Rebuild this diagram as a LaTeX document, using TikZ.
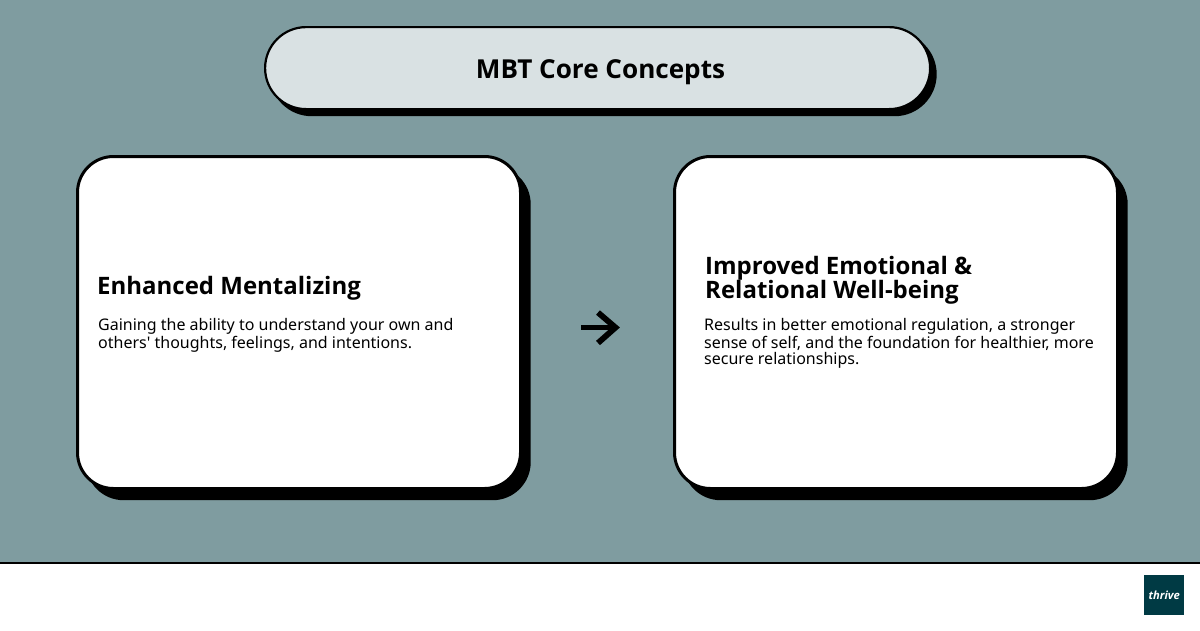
\documentclass[tikz,border=0pt]{standalone}
\usepackage{fontspec}
\setmainfont{Noto Sans}
\newfontfamily\nsans{Noto Sans}
\newfontfamily\osans{Open Sans}
\definecolor{bgc}{HTML}{7F9CA0}
\definecolor{pillc}{HTML}{D9E1E3}
\definecolor{logoc}{HTML}{003A44}
\tikzset{
  x=1pt,y=-1pt,
  card/.style={draw=black,line width=3pt,fill=white,rounded corners=36pt,minimum width=443pt,minimum height=332pt,anchor=north west,inner sep=0pt},
  cardshadow/.style={fill=black,rounded corners=38pt,minimum width=445pt,minimum height=334pt,anchor=north west,inner sep=0pt},
  pill/.style={draw=black,line width=2.2pt,fill=pillc,rounded corners=41pt,minimum width=665pt,minimum height=82pt,anchor=north west,inner sep=0pt},
  pillshadow/.style={fill=black,rounded corners=42pt,minimum width=667pt,minimum height=84pt,anchor=north west,inner sep=0pt},
  head/.style={font=\osans\fontsize{24}{24}\selectfont\bfseries,align=left,anchor=north west,inner sep=0pt,text=black},
  body/.style={font=\nsans\fontsize{16}{16}\selectfont,align=left,anchor=north west,inner sep=0pt,text=black},
}
\begin{document}
\begin{tikzpicture}
\useasboundingbox (0,0) rectangle (1200,630);
\fill[bgc] (0,0) rectangle (1200,563);
\fill[white] (0,563) rectangle (1200,630);
\fill[black] (0,562) rectangle (1200,564);
\node[pillshadow] (ps) at (269.5,32) {};
\node[pill] (p) at (264,26) {};
\node[font=\osans\fontsize{26.1}{26}\selectfont\bfseries] (t) at (600.5,72.5) {MBT Core Concepts};
\node[cardshadow] (s1) at (85.5,166) {};
\node[card] (c1) at (76,155) {};
\node[cardshadow] (s2) at (682.5,166) {};
\node[card] (c2) at (673,155) {};
\node[head] (h1) at (97,276.5) {Enhanced Mentalizing};
\node[body] (b1) at (98,318.6) {Gaining the ability to understand your own and\\others' thoughts, feelings, and intentions.};
\node[head] (h2) at (705,256.5) {Improved Emotional \&\\Relational Well-being};
\node[body] (b2) at (704,318.6) {Results in better emotional regulation, a stronger\\sense of self, and the foundation for healthier, more\\secure relationships.};
\coordinate (as) at (581,327.5);
\coordinate (at) at (615.5,327.5);
\draw[line width=5.8pt] (as) -- (at);
\draw[line width=5.8pt] (598,312.5) -- (at) -- (598,343);
\node[fill=logoc,minimum size=40pt,inner sep=0pt,anchor=north west] (l) at (1144,575) {};
\node[text=white,font=\osans\fontsize{11.2}{11}\selectfont\bfseries\itshape] (lt) at (l.center) {thrive};
\end{tikzpicture}
\end{document}
